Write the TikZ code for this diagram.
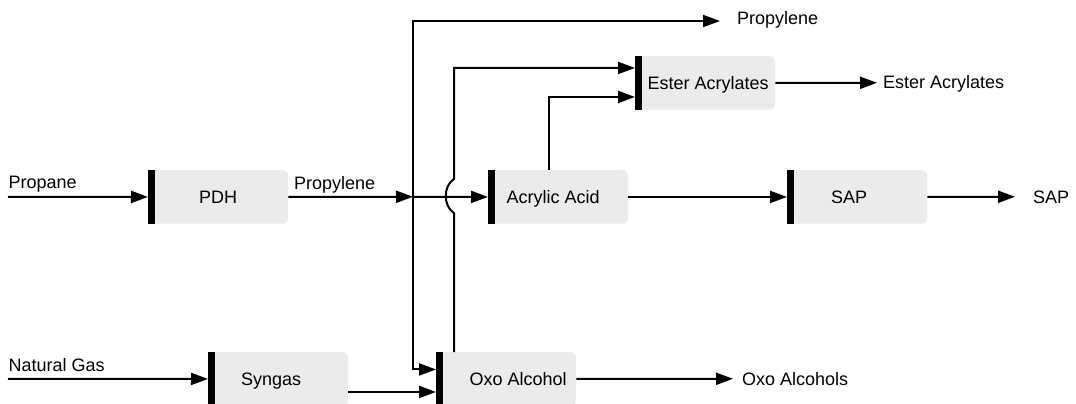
\documentclass[tikz,border=0pt]{standalone}
\usepackage{fontspec}
\setmainfont{Liberation Sans}
\usetikzlibrary{arrows.meta,calc}
\definecolor{boxgray}{HTML}{EBEBEB}
\begin{document}
\begin{tikzpicture}[x=1pt,y=-1pt,
  font=\fontsize{18}{21}\selectfont,
  arr/.style={line width=2pt,-{Triangle[length=17pt,width=12pt]}},
  unit/.style={fill=boxgray,rounded corners=6pt,minimum width=140pt,minimum height=53.5pt,
    inner sep=0pt,anchor=north west,text height=13pt,text depth=0pt},
  lbl/.style={anchor=base west,inner sep=0pt},
  bar/.style={fill=black}]
\useasboundingbox (0,0) rectangle (1076,404);
\clip (0,0) rectangle (1076,404);
% units
\node[unit] (PDH) at (148,170) {PDH};
\node[unit] (Acr) at (488,170) {\kern-10pt Acrylic Acid};
\node[unit] (SAP) at (787,170) {\kern-16pt SAP};
\node[unit] (Est) at (635,56) {\kern6pt Ester Acrylates};
\node[unit] (Syn) at (208,352) {\kern-14pt Syngas};
\node[unit] (Oxo) at (436,352) {\kern24pt Oxo Alcohol};
\foreach \n in {PDH,Acr,SAP,Est,Syn,Oxo}
  \fill[bar] (\n.north west) rectangle ([xshift=7pt]\n.south west);
% free ends
\coordinate (propIn) at (8,196.75);
\coordinate (gasIn) at (8,378.75);
\coordinate (j) at (413,196.75);
\coordinate (propOut) at (720,21);
\coordinate (estOut) at (877,82.75);
\coordinate (sapOut) at (1015,196.75);
\coordinate (oxoOut) at (733,378.75);
% connectors
\draw[arr] (propIn) -- (PDH.west);
\draw[arr] (gasIn) -- (Syn.west);
\draw[arr] (PDH.east) -- (j);
\draw[arr] (j) -- (Acr.west);
\draw[arr] (j) |- (propOut);
\draw[arr] (j) |- ([yshift=9.5pt]Oxo.west);
\draw[arr] ([yshift=-13pt]Syn.east) -- ([yshift=-13pt]Oxo.west);
\draw[arr] ([xshift=18pt]Oxo.north west) -- (454,213)
  .. controls (443,206) and (443,186) .. (454,179) |- ([yshift=15pt]Est.west);
\draw[arr] ([xshift=60.7pt]Acr.north west) |- ([yshift=-14pt]Est.west);
\draw[arr] (Acr.east) -- (SAP.west);
\draw[arr] (SAP.east) -- (sapOut);
\draw[arr] (Est.east) -- (estOut);
\draw[arr] (Oxo.east) -- (oxoOut);
% labels
\node[lbl] (lPropane) at (8.5,188.5) {Propane};
\node[lbl] (lProp1) at (294,189) {Propylene};
\node[lbl] (lGas) at (8.5,371.7) {Natural Gas};
\node[lbl] (lProp2) at (737,25) {Propylene};
\node[lbl] (lEst) at (883,88.5) {Ester Acrylates};
\node[lbl] (lSAP) at (1033,203) {SAP};
\node[lbl] (lOxo) at (742,385) {Oxo Alcohols};
\end{tikzpicture}
\end{document}
